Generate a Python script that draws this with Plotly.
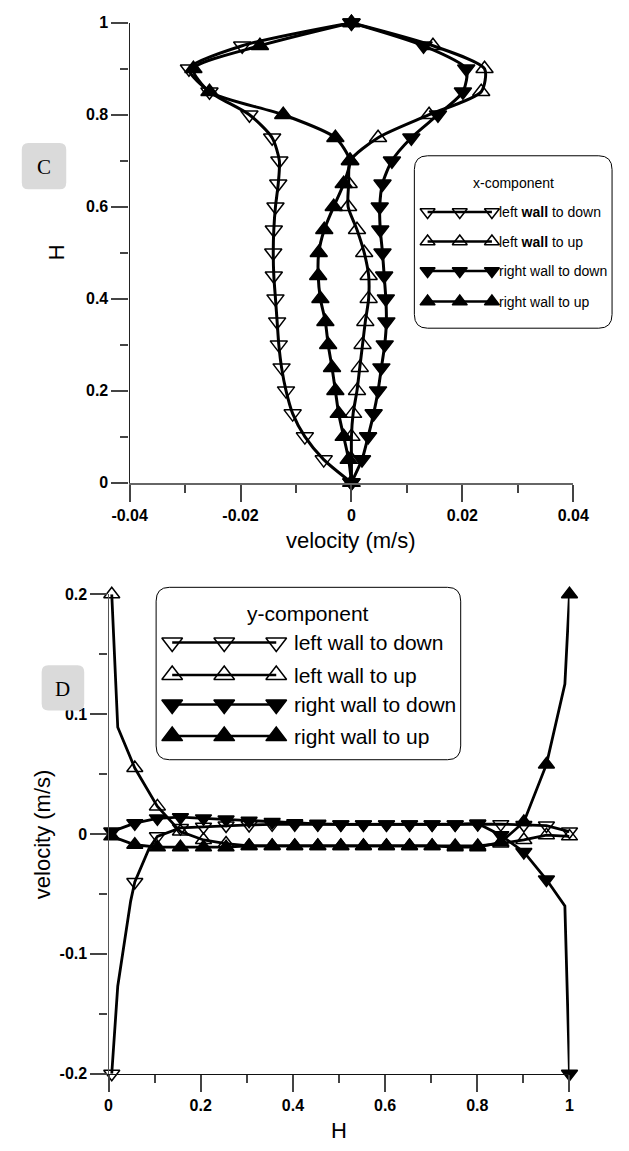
import plotly.graph_objects as go

# ---------------- Panel C : x-component of velocity vs H ----------------
H_c = [0.00, 0.05, 0.10, 0.15, 0.20, 0.25, 0.30, 0.35, 0.40, 0.45, 0.50,
       0.55, 0.60, 0.65, 0.70, 0.75, 0.80, 0.85, 0.90, 0.95, 1.00]
u_left_down = [0.0, -0.0050, -0.0084, -0.0106, -0.0118, -0.0126, -0.0131, -0.0134, -0.0137, -0.0140, -0.0141,
               -0.0140, -0.0137, -0.0132, -0.0130, -0.0143, -0.0184, -0.0256, -0.0293, -0.0197, 0.0]
u_left_up = [0.0, 0.0, 0.0, 0.0003, 0.0010, 0.0015, 0.0020, 0.0025, 0.0031, 0.0031, 0.0023,
             0.0010, -0.0006, -0.0005, -0.0002, 0.0048, 0.0140, 0.0234, 0.0240, 0.0147, 0.0]
u_right_down = [0.0, 0.0019, 0.0030, 0.0040, 0.0048, 0.0054, 0.0060, 0.0063, 0.0062, 0.0059, 0.0056,
                0.0052, 0.0051, 0.0056, 0.0073, 0.0108, 0.0156, 0.0201, 0.0207, 0.0130, 0.0]
u_right_up = [0.0, -0.0005, -0.0014, -0.0023, -0.0029, -0.0035, -0.0042, -0.0047, -0.0056, -0.0060, -0.0059,
              -0.0049, -0.0032, -0.0014, -0.0003, -0.0029, -0.0123, -0.0256, -0.0285, -0.0165, 0.0]

# ---------------- Panel D : y-component of velocity vs H ----------------
H_d = [0.007, 0.057, 0.106, 0.156, 0.206, 0.255, 0.305, 0.355, 0.404, 0.454, 0.504,
       0.553, 0.603, 0.653, 0.702, 0.752, 0.801, 0.851, 0.901, 0.950, 1.000]
v_left_down = [-0.200, -0.040, -0.002, 0.005, 0.006, 0.007, 0.0075, 0.008, 0.008, 0.008, 0.008,
               0.008, 0.008, 0.008, 0.008, 0.008, 0.0082, 0.0082, 0.0075, 0.007, 0.002]
v_left_up = [0.200, 0.055, 0.023, 0.002, -0.005, -0.008, -0.010, -0.010, -0.010, -0.010, -0.010,
             -0.010, -0.010, -0.010, -0.010, -0.010, -0.010, -0.008, -0.005, -0.001, -0.002]
v_right_down = [0.002, 0.009, 0.013, 0.014, 0.013, 0.012, 0.011, 0.010, 0.009, 0.0085, 0.008,
                0.008, 0.008, 0.008, 0.008, 0.008, 0.0088, -0.001, -0.015, -0.038, -0.200]
v_right_up = [-0.002, -0.009, -0.011, -0.011, -0.011, -0.011, -0.010, -0.010, -0.010, -0.010, -0.010,
              -0.010, -0.010, -0.010, -0.010, -0.011, -0.011, -0.007, 0.010, 0.058, 0.200]
# additional line-only points near the walls
H_ld_extra, v_ld_extra = [0.020, 0.048, 0.088], [-0.127, -0.056, -0.012]
H_lu_extra, v_lu_extra = [0.020], [0.089]
H_rd_extra, v_rd_extra = [0.990], [-0.060]
H_ru_extra, v_ru_extra = [0.990], [0.125]

series_names = ["left wall to down", "left wall to up", "right wall to down", "right wall to up"]
series_names_c = ["left <b>wall</b> to down", "left <b>wall</b> to up", "right wall to down", "right wall to up"]
symbols = ["triangle-down-open", "triangle-up-open", "triangle-down", "triangle-up"]

# axis ticks
xc_ticks = [-0.04, -0.02, 0, 0.02, 0.04]
xc_text = ["-0.04", "-0.02", "0", "0.02", "0.04"]
yc_ticks = [0, 0.2, 0.4, 0.6, 0.8, 1.0]
yc_text = ["0", "0.2", "0.4", "0.6", "0.8", "1"]
xd_ticks = [0, 0.2, 0.4, 0.6, 0.8, 1.0]
xd_text = ["0", "0.2", "0.4", "0.6", "0.8", "1"]
yd_ticks = [-0.2, -0.1, 0, 0.1, 0.2]
yd_text = ["-0.2", "-0.1", "0", "0.1", "0.2"]

W, Hpx = 629, 1151
SANS = "Liberation Sans, Arial, sans-serif"
SERIF = "Liberation Serif, Times New Roman, serif"

fig = go.Figure()

def px_x(p):
    return p / W

def px_y(p):
    return 1 - p / Hpx

# ---- panel C traces
for name, sym, u in zip(series_names, symbols, [u_left_down, u_left_up, u_right_down, u_right_up]):
    fig.add_trace(go.Scatter(
        x=u, y=H_c, mode="lines+markers", name=name, xaxis="x", yaxis="y",
        line=dict(color="black", width=3, shape="spline", smoothing=0.7),
        marker=dict(symbol=sym, size=15, color="black", line=dict(color="black", width=1.5)),
        cliponaxis=False, showlegend=False, hoverinfo="skip"))

# ---- panel D traces
extras = [(H_ld_extra, v_ld_extra), (H_lu_extra, v_lu_extra), (H_rd_extra, v_rd_extra), (H_ru_extra, v_ru_extra)]
for name, sym, v, (hx, vx) in zip(series_names, symbols, [v_left_down, v_left_up, v_right_down, v_right_up], extras):
    pts = sorted(list(zip(H_d, v)) + list(zip(hx, vx)))
    fig.add_trace(go.Scatter(
        x=[p[0] for p in pts], y=[p[1] for p in pts], mode="lines", xaxis="x2", yaxis="y2",
        line=dict(color="black", width=2.8), cliponaxis=False, showlegend=False, hoverinfo="skip"))
    fig.add_trace(go.Scatter(
        x=H_d, y=v, mode="markers", name=name, xaxis="x2", yaxis="y2",
        marker=dict(symbol=sym, size=14, color="black", line=dict(color="black", width=1.5)),
        cliponaxis=False, showlegend=False, hoverinfo="skip"))

# ---- custom legends (drawn in a pixel-space overlay)
leg_c = dict(box=(419, 150, 628, 325), title=(524, 178), rows=[207, 237, 267, 298],
             mx=[433, 467, 501], tx=506, font=SANS, fsize=14, msize=13, names=series_names_c,
             title_text="x-component")
leg_d = dict(box=(146, 588, 468, 763), title=(307, 615), rows=[644, 677, 707, 739],
             mx=[163, 218, 273], tx=290, font=SANS, fsize=21, msize=18, names=series_names,
             title_text="y-component")

def rounded(x0, y0, x1, y1, r):
    return (f"M{x0+r},{y0} L{x1-r},{y0} Q{x1},{y0} {x1},{y0+r} L{x1},{y1-r} Q{x1},{y1} {x1-r},{y1} "
            f"L{x0+r},{y1} Q{x0},{y1} {x0},{y1-r} L{x0},{y0+r} Q{x0},{y0} {x0+r},{y0} Z")

shapes = []
annotations = []
for leg in (leg_c, leg_d):
    x0, y0, x1, y1 = leg["box"]
    shapes.append(dict(type="path", path=rounded(x0, y0, x1, y1, 14), xref="x3", yref="y3",
                       line=dict(color="black", width=1), fillcolor="rgba(0,0,0,0)", layer="below"))
    annotations.append(dict(x=leg["title"][0], y=leg["title"][1], xref="x3", yref="y3",
                            text=leg["title_text"], showarrow=False, xanchor="center", yanchor="middle",
                            font=dict(family=leg["font"], size=leg["fsize"], color="black")))
    for ry, nm, sym in zip(leg["rows"], leg["names"], symbols):
        fig.add_trace(go.Scatter(
            x=leg["mx"], y=[ry] * 3, mode="lines+markers", xaxis="x3", yaxis="y3",
            line=dict(color="black", width=2.5),
            marker=dict(symbol=sym, size=leg["msize"], color="black", line=dict(color="black", width=1.5)),
            cliponaxis=False, showlegend=False, hoverinfo="skip"))
        annotations.append(dict(x=leg["tx"], y=ry, xref="x3", yref="y3", text=nm, showarrow=False,
                                xanchor="left", yanchor="middle",
                                font=dict(family=leg["font"], size=leg["fsize"], color="black")))

# panel labels C and D
for lab, (x0, y0, x1, y1) in (("C", (4, 137, 51, 184)), ("D", (25, 667, 70, 713))):
    shapes.append(dict(type="path", path=rounded(x0, y0, x1, y1, 7), xref="x3", yref="y3",
                       line=dict(width=0), fillcolor="#dadada", layer="below"))
    annotations.append(dict(x=(x0 + x1) / 2, y=(y0 + y1) / 2 + 1, xref="x3", yref="y3", text=lab,
                            showarrow=False, xanchor="center", yanchor="middle",
                            font=dict(family=SERIF, size=21, color="black")))

# axis titles
annotations += [
    dict(x=352.5, y=540, xref="x3", yref="y3", text="velocity (m/s)", showarrow=False,
         font=dict(family=SANS, size=22, color="black"), xanchor="center", yanchor="middle"),
    dict(x=40, y=248, xref="x3", yref="y3", text="H", showarrow=False, textangle=-90,
         font=dict(family=SANS, size=22, color="black"), xanchor="center", yanchor="middle"),
    dict(x=339, y=1139, xref="x3", yref="y3", text="H", showarrow=False,
         font=dict(family=SANS, size=22, color="black"), xanchor="center", yanchor="middle"),
    dict(x=26, y=839, xref="x3", yref="y3", text="velocity (m/s)", showarrow=False, textangle=-90,
         font=dict(family=SANS, size=22, color="black"), xanchor="center", yanchor="middle"),
]

tickfont = dict(family=SANS, size=16, color="black", weight="bold")

def axis_common(**kw):
    d = dict(showgrid=False, zeroline=False, showline=True, ticks="outside", ticklen=17, tickwidth=1.5,
             tickcolor="#444", tickfont=tickfont, fixedrange=True, tickmode="array")
    d.update(kw)
    return d

fig.update_layout(
    width=W, height=Hpx, margin=dict(l=0, r=0, t=0, b=0, pad=0), autosize=False,
    paper_bgcolor="white", plot_bgcolor="rgba(0,0,0,0)",
    xaxis=axis_common(domain=[px_x(118), px_x(587)], range=[-0.04, 0.04], anchor="y",
                      tickvals=xc_ticks, ticktext=xc_text, linecolor="#666", linewidth=2,
                      minor=dict(ticks="outside", ticklen=8, tickwidth=1.5, tickcolor="#444", dtick=0.01, tick0=0)),
    yaxis=axis_common(domain=[px_y(481.7), px_y(15)], range=[0, 1], anchor="x",
                      tickvals=yc_ticks, ticktext=yc_text, linecolor="#222", linewidth=1.3,
                      minor=dict(ticks="outside", ticklen=8, tickwidth=1.5, tickcolor="#444", dtick=0.1, tick0=0)),
    xaxis2=axis_common(domain=[px_x(95.7), px_x(583)], range=[0, 1], anchor="y2",
                       tickvals=xd_ticks, ticktext=xd_text, linecolor="#111", linewidth=1.3,
                       minor=dict(ticks="outside", ticklen=8, tickwidth=1.5, tickcolor="#444", dtick=0.1, tick0=0)),
    yaxis2=axis_common(domain=[px_y(1081.7), px_y(595)], range=[-0.2, 0.2], anchor="x2",
                       tickvals=yd_ticks, ticktext=yd_text, linecolor="#555", linewidth=1.3,
                       minor=dict(ticks="outside", ticklen=8, tickwidth=1.5, tickcolor="#444", dtick=0.05, tick0=0)),
    xaxis3=dict(domain=[0, 1], range=[0, W], visible=False, anchor="y3", fixedrange=True),
    yaxis3=dict(domain=[0, 1], range=[Hpx, 0], visible=False, anchor="x3", fixedrange=True),
    shapes=shapes, annotations=annotations, showlegend=False,
)

fig.write_html("out.html", config={"displayModeBar": False})
